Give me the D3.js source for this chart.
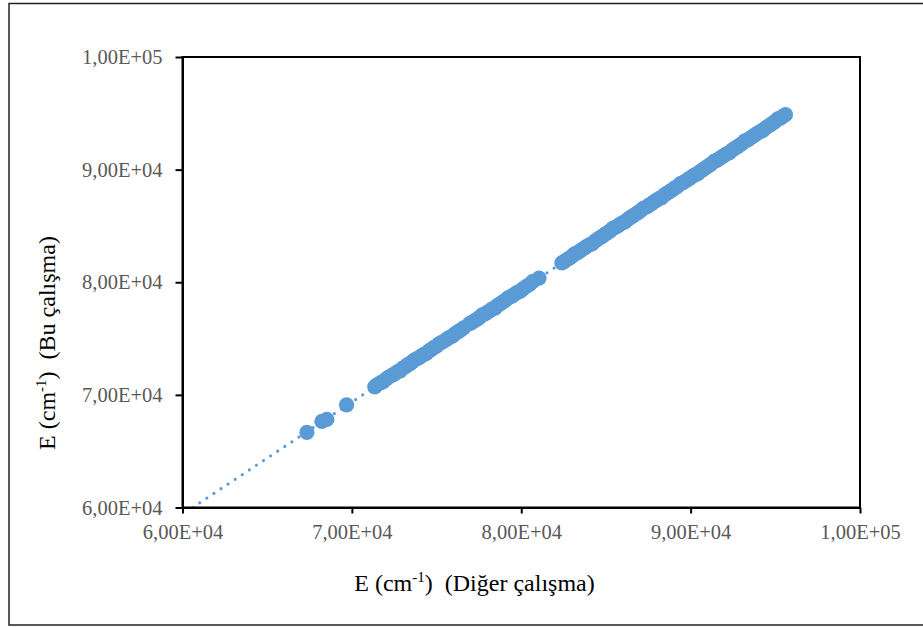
<!DOCTYPE html>
<html>
<head>
<meta charset="utf-8">
<script src="https://cdn.jsdelivr.net/npm/d3@7"></script>
<style>
  html, body { margin: 0; padding: 0; background: #fff; }
  svg { display: block; }
  text { font-family: "Liberation Serif", "Times New Roman", serif; white-space: pre; }
</style>
</head>
<body>
<svg width="923" height="627"></svg>
<script>
// E (cm-1) from the other study (x) vs this study (y)
const otherWork = [
  67345, 68230, 68525, 69687,
  71350, 71500, 71700, 71820, 72000, 72150, 72380, 72500, 72700, 72850,
  73000, 73150, 73300, 73420, 73560, 73700, 73850, 74000, 74100, 74250,
  74400, 74550, 74700, 74850, 75000, 75150, 75300, 75500, 75650, 75800,
  75950, 76100, 76250, 76400, 76600,
  76950, 77100, 77250, 77400, 77550, 77700, 77850, 78000, 78150, 78300, 78450,
  78600, 78750, 78900, 79050, 79200, 79350, 79500, 79650, 79800, 79950,
  80100, 80300, 80500, 80700, 81050,
  82400, 82550, 82700, 82850, 83000, 83150, 83300, 83450, 83600, 83750,
  83900, 84050, 84200, 84350, 84500, 84650, 84800, 84950, 85100, 85250,
  85400, 85550, 85700, 85850, 86000, 86150, 86300, 86450, 86600, 86750,
  86900, 87050, 87200, 87400, 87550, 87700, 87850, 88000, 88150, 88300,
  88450, 88600, 88750, 88900, 89050, 89200, 89400, 89550, 89700, 89850,
  90000, 90150, 90300, 90450, 90600, 90750, 90900, 91050, 91200, 91400,
  91550, 91700, 91850, 92000, 92150, 92300, 92450, 92600, 92750, 92900,
  93050, 93200, 93350, 93500, 93650, 93800, 93950, 94100, 94250, 94400,
  94550, 94700, 94850, 95000, 95150, 95300, 95450, 95600
]
const thisWork = [
  66664, 67641, 67819, 69107,
  70715, 70900, 71080, 71150, 71380, 71560, 71760, 71840, 72070, 72120,
  72380, 72490, 72680, 72760, 72930, 73110, 73220, 73330, 73470, 73590,
  73680, 73900, 74030, 74210, 74330, 74540, 74660, 74830, 74990, 75120,
  75230, 75430, 75600, 75720, 75950,
  76320, 76430, 76600, 76720, 76900, 77100, 77200, 77330, 77480, 77640, 77700,
  77950, 78080, 78230, 78380, 78600, 78700, 78820, 78990, 79120, 79220,
  79420, 79630, 79810, 80090, 80370,
  81720, 81860, 82020, 82150, 82330, 82530, 82610, 82760, 82920, 83050,
  83220, 83350, 83440, 83660, 83810, 83970, 84100, 84270, 84400, 84560,
  84780, 84870, 85000, 85160, 85300, 85390, 85600, 85760, 85900, 86060,
  86190, 86360, 86570, 86700, 86850, 86990, 87150, 87290, 87450, 87520,
  87750, 87890, 88040, 88190, 88350, 88490, 88760, 88840, 88990, 89140,
  89280, 89440, 89580, 89670, 89880, 90030, 90180, 90340, 90480, 90750,
  90830, 90980, 91130, 91280, 91430, 91510, 91730, 91880, 92030, 92180,
  92330, 92550, 92630, 92780, 92930, 93080, 93230, 93380, 93460, 93680,
  93830, 93980, 94130, 94280, 94500, 94580, 94730, 94880
]
const tickValues = [60000, 70000, 80000, 90000, 100000]
const tickLabels = ['6,00E+04', '7,00E+04', '8,00E+04', '9,00E+04', '1,00E+05']

const svg = d3.select('svg')
const color = '#5b9bd5'
const plotL = 182.5, plotR = 860, plotT = 57, plotB = 507.5

// outer chart frame
svg.append('rect')
  .attr('x', 9).attr('y', 3.5)
  .attr('width', 930).attr('height', 621.5)
  .attr('fill', 'none').attr('stroke', '#222').attr('stroke-width', 1.5)

const x = d3.scaleLinear().domain([60000, 100000]).range([plotL, plotR])
const y = d3.scaleLinear().domain([60000, 100000]).range([plotB, plotT])

const pts = otherWork.map((v, i) => ({ x: v, y: thisWork[i] }))

// markers
svg.append('g')
  .selectAll('circle')
  .data(pts)
  .enter().append('circle')
    .attr('cx', d => x(d.x))
    .attr('cy', d => y(d.y))
    .attr('r', 7.6)
    .attr('fill', color)

// linear trendline (least squares), forecast back to the axis
const mx = d3.mean(pts, d => d.x), my = d3.mean(pts, d => d.y)
const slope = d3.sum(pts, d => (d.x - mx) * (d.y - my)) / d3.sum(pts, d => (d.x - mx) ** 2)
const icpt = my - slope * mx
const x0 = Math.max(60000, (60000 - icpt) / slope)
const x1 = d3.max(otherWork)
svg.append('line')
  .attr('x1', x(x0)).attr('y1', y(slope * x0 + icpt))
  .attr('x2', x(x1)).attr('y2', y(slope * x1 + icpt))
  .attr('stroke', color)
  .attr('stroke-width', 3.2)
  .attr('stroke-linecap', 'round')
  .attr('stroke-dasharray', '0 8.5')

// plot box
svg.append('rect')
  .attr('x', plotL).attr('y', plotT)
  .attr('width', plotR - plotL).attr('height', plotB - plotT)
  .attr('fill', 'none').attr('stroke', '#000').attr('stroke-width', 2)

// axes
const fmt = v => tickLabels[tickValues.indexOf(v)]
const xAxis = svg.append('g')
  .attr('transform', `translate(0,${plotB})`)
  .call(d3.axisBottom(x).tickValues(tickValues).tickFormat(fmt).tickSizeInner(6).tickSizeOuter(0).tickPadding(11))
const yAxis = svg.append('g')
  .attr('transform', `translate(${plotL},0)`)
  .call(d3.axisLeft(y).tickValues(tickValues).tickFormat(fmt).tickSizeInner(7).tickSizeOuter(0).tickPadding(13))

for (const ax of [xAxis, yAxis]) {
  ax.select('.domain').attr('stroke', '#000').attr('stroke-width', 2)
  ax.selectAll('.tick line').attr('stroke', '#000').attr('stroke-width', 2)
  ax.selectAll('.tick text')
    .attr('fill', '#595959')
    .style('font-family', '"Liberation Serif", "Times New Roman", serif')
    .style('font-size', '20.5px')
}

// axis titles
const xTitle = svg.append('text')
  .attr('x', 474.5).attr('y', 590.5)
  .attr('text-anchor', 'middle')
  .style('font-size', '24px')
xTitle.append('tspan').text('E (cm')
xTitle.append('tspan').text('-1').attr('dy', -9).style('font-size', '15px')
xTitle.append('tspan').text(')  (Diğer çalışma)').attr('dy', 9)

const yTitle = svg.append('text')
  .attr('transform', 'translate(55,343) rotate(-90)')
  .attr('text-anchor', 'middle')
  .style('font-size', '24px')
yTitle.append('tspan').text('E (cm')
yTitle.append('tspan').text('-1').attr('dy', -9).style('font-size', '15px')
yTitle.append('tspan').text(')  (Bu çalışma)').attr('dy', 9)
</script>
</body>
</html>
